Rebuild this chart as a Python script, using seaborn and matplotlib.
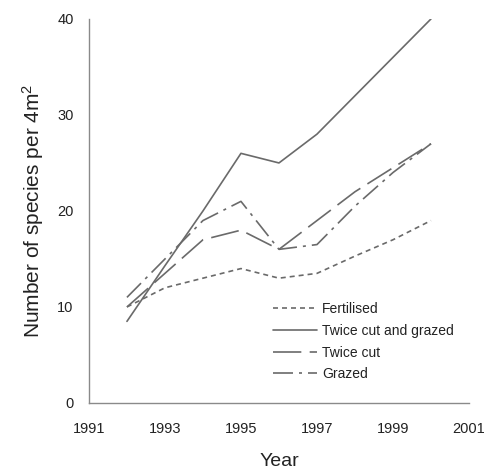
import pandas as pd
import seaborn as sns
import matplotlib
matplotlib.use('Agg')
import matplotlib.pyplot as plt

sns.set_style("white")
plt.rcParams['font.family'] = ['Liberation Sans', 'DejaVu Sans']
plt.rcParams['mathtext.default'] = 'regular'

years = [1992, 1993, 1994, 1995, 1996, 1997, 1998, 1999, 2000]
fertilised = [10, 12, 13, 14, 13, 13.5, 15.3, 17, 19]
twice_cut_grazed = [8.5, 14.3, 20, 26, 25, 28, 32, 36, 40]
twice_cut = [10, 13.5, 17, 18, 16, 19, 22, 24.5, 27]
grazed = [11, 15, 19, 21, 16, 16.5, 20.5, 24, 27]

labels = ['Fertilised', 'Twice cut and grazed', 'Twice cut', 'Grazed']
series = [fertilised, twice_cut_grazed, twice_cut, grazed]

data = pd.concat([pd.DataFrame({'Year': years, 'Species': s, 'Treatment': lab})
                  for lab, s in zip(labels, series)])

dashes = {
    'Fertilised': (3, 2.4),
    'Twice cut and grazed': '',
    'Twice cut': (17, 5),
    'Grazed': (12, 3.6, 1.8, 3.6),
}

fig = plt.figure(figsize=(4.86, 4.73), dpi=100)
ax = fig.add_axes([0.183, 0.148, 0.782, 0.812])

sns.lineplot(data=data, x='Year', y='Species', hue='Treatment', style='Treatment',
             palette=['#6a6a6a'] * 4, dashes=dashes, linewidth=1.2, ax=ax,
             hue_order=labels, style_order=labels)

ax.set_xlim(1991, 2001)
ax.set_ylim(0, 40)
ax.set_xticks([1991, 1993, 1995, 1997, 1999, 2001])
ax.set_yticks([0, 10, 20, 30, 40])
ax.set_xlabel('Year', fontsize=14, color='#222222', labelpad=12)
ax.set_ylabel('Number of species per 4m$^2$', fontsize=15, color='#222222', labelpad=8)

for side in ['top', 'right']:
    ax.spines[side].set_visible(False)
for side in ['left', 'bottom']:
    ax.spines[side].set_color('#8a8a8a')
    ax.spines[side].set_linewidth(1.0)
ax.tick_params(direction='in', length=4, width=1, color='#8a8a8a',
               labelsize=10.5, labelcolor='#222222', pad=14)
ax.tick_params(axis='y', pad=11)

leg = ax.legend(loc='upper left', bbox_to_anchor=(0.484, 0.263), frameon=False,
                fontsize=10, handlelength=3.2, handletextpad=0.36,
                labelspacing=0.56, borderpad=0, borderaxespad=0)
for t in leg.get_texts():
    t.set_color('#222222')

fig.savefig('out.png', dpi=100)
